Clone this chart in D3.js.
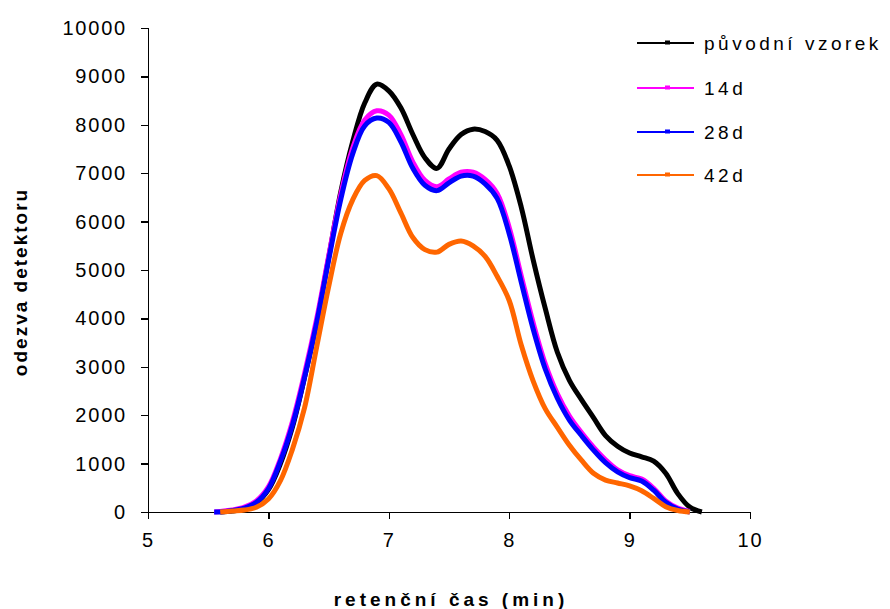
<!DOCTYPE html>
<html lang="cs">
<head>
<meta charset="UTF-8">
<title>GPC chromatogram</title>
<script src="https://d3js.org/d3.v7.min.js"></script>
<style>
    body { margin: 0; background: #fff; }
    svg text { font-family: "Liberation Sans", Arial, sans-serif; fill: #000; }
    .axis path, .axis line { stroke: #000; stroke-width: 1.5; shape-rendering: crispEdges; }
    .axis text { font-size: 20px; letter-spacing: 1.8px; }
    .title { font-size: 19px; font-weight: bold; }
    .legend text { font-size: 19px; letter-spacing: 3.5px; }
    .curve { fill: none; stroke-width: 5; stroke-linejoin: round; }
</style>
</head>
<body>
<svg width="890" height="609"></svg>
<script>
// retention time grid (min)
const times = [5.55, 5.6, 5.7, 5.8, 5.9, 6.0, 6.1, 6.2, 6.3, 6.4, 6.5, 6.6, 6.7, 6.8, 6.9,
    7.0, 7.1, 7.2, 7.3, 7.4, 7.5, 7.6, 7.7, 7.8, 7.9, 8.0, 8.1, 8.2, 8.3, 8.4,
    8.5, 8.6, 8.7, 8.8, 8.9, 9.0, 9.1, 9.2, 9.3, 9.4, 9.5, 9.6];

const original = [null, 0, 20, 70, 190, 460, 1000, 1760, 2780, 3900, 5250, 6600, 7650, 8450, 8840,
    8700, 8350, 7800, 7320, 7100, 7500, 7800, 7910, 7860, 7680, 7150, 6300, 5200, 4200, 3300,
    2720, 2320, 1950, 1580, 1360, 1220, 1140, 1050, 800, 380, 100, 0];

const d14 = [0, 10, 40, 100, 230, 520, 1100, 1870, 2860, 3980, 5280, 6550, 7520, 8100, 8290,
    8200, 7800, 7230, 6850, 6720, 6880, 7020, 7020, 6870, 6580, 5880, 4880, 3900, 3060, 2440,
    1980, 1640, 1340, 1080, 870, 750, 680, 490, 230, 80, 10, null];

const d28 = [0, 0, 30, 80, 200, 480, 1050, 1800, 2780, 3900, 5200, 6450, 7400, 7980, 8140,
    8050, 7650, 7100, 6750, 6640, 6800, 6940, 6940, 6780, 6480, 5750, 4750, 3770, 2950, 2350,
    1900, 1580, 1280, 1020, 830, 710, 640, 450, 200, 60, 0, null];

const d42 = [null, 0, 20, 40, 100, 270, 650, 1300, 2150, 3400, 4650, 5750, 6450, 6850, 6950,
    6680, 6180, 5670, 5420, 5370, 5530, 5600, 5500, 5280, 4870, 4370, 3450, 2700, 2130, 1750,
    1380, 1070, 800, 660, 600, 540, 440, 280, 110, 30, 0, null];

const seriesNames = ["p\u016fvodn\u00ed vzorek", "14d", "28d", "42d"];
const seriesColors = ["#000000", "#ff00ff", "#0000ff", "#ff6600"];
const seriesValues = [original, d14, d28, d42];

const xTicks = [5, 6, 7, 8, 9, 10];
const yTicks = [0, 1000, 2000, 3000, 4000, 5000, 6000, 7000, 8000, 9000, 10000];

const svg = d3.select("svg");
const plotLeft = 148, plotRight = 750, plotTop = 28, plotBottom = 512;

const x = d3.scaleLinear().domain([5, 10]).range([plotLeft, plotRight]);
const y = d3.scaleLinear().domain([0, 10000]).range([plotBottom, plotTop]);

// axes
svg.append("g")
    .attr("class", "axis")
    .attr("transform", `translate(0,${plotBottom})`)
    .call(d3.axisBottom(x).tickValues(xTicks).tickFormat(d3.format("d"))
        .tickSize(7).tickSizeOuter(7).tickPadding(14));

svg.append("g")
    .attr("class", "axis")
    .attr("transform", `translate(${plotLeft},0)`)
    .call(d3.axisLeft(y).tickValues(yTicks).tickFormat(d3.format("d"))
        .tickSize(7).tickSizeOuter(7).tickPadding(14));

svg.selectAll(".axis").attr("font-size", null).attr("font-family", null);

// curves
const line = d3.line()
    .defined(d => d[1] != null)
    .x(d => x(d[0]))
    .y(d => y(Math.max(0, d[1])))
    .curve(d3.curveCatmullRom.alpha(0.5));

seriesValues.forEach((vals, i) => {
    svg.append("path")
        .datum(times.map((t, j) => [t, vals[j]]))
        .attr("class", "curve")
        .attr("stroke", seriesColors[i])
        .attr("d", line);
});

// axis titles
svg.append("text")
    .attr("class", "title")
    .attr("text-anchor", "middle")
    .attr("letter-spacing", "2px")
    .attr("transform", `translate(27,282)rotate(-90)`)
    .text("odezva detektoru");

svg.append("text")
    .attr("class", "title")
    .attr("text-anchor", "middle")
    .attr("letter-spacing", "4px")
    .attr("x", 451)
    .attr("y", 606)
    .text("reten\u010dn\u00ed \u010das (min)");

// legend
const legend = svg.append("g").attr("class", "legend");
const legendY = [43, 88, 132, 175];
seriesNames.forEach((name, i) => {
    const g = legend.append("g").attr("transform", `translate(0,${legendY[i]})`);
    g.append("line")
        .attr("x1", 637).attr("x2", 694)
        .attr("y1", 0).attr("y2", 0)
        .attr("stroke", seriesColors[i])
        .attr("stroke-width", 2);
    g.append("rect")
        .attr("x", 665).attr("y", -2.5)
        .attr("width", 5).attr("height", 4)
        .attr("fill", seriesColors[i]);
    g.append("text")
        .attr("x", 704)
        .attr("y", 7)
        .text(name);
});
</script>
</body>
</html>
